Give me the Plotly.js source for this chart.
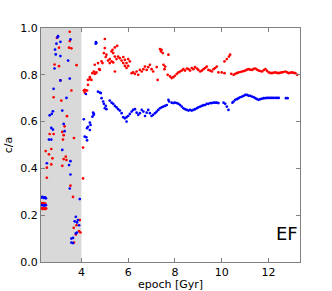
<!DOCTYPE html>
<html>
<head>
<meta charset="utf-8">
<script src="https://cdn.plot.ly/plotly-3.0.1.min.js"></script>
<style>html,body{margin:0;padding:0;background:#fff;}#chart{width:332px;height:291px;}</style>
</head>
<body>
<div id="chart"></div>
<script>
// epoch [Gyr], c/a
const redSeries = [
[3.50,0.984],[2.95,0.958],[3.50,0.944],[3.47,0.916],[3.57,0.913],[3.04,0.916],[2.85,0.844],[3.04,0.837],[3.79,0.841],[3.10,0.776],[3.57,0.733],[2.81,0.704],[3.14,0.690],[3.38,0.623],[3.28,0.580],[2.64,0.547],[2.81,0.547],[3.18,0.556],[3.24,0.542],[3.68,0.530],[3.21,0.523],
[2.47,0.474],[2.71,0.483],[2.61,0.460],[2.76,0.443],[3.33,0.450],[3.24,0.440],[3.36,0.436],[2.71,0.417],[3.18,0.411],[2.52,0.403],[2.52,0.360],[4.07,0.357],[4.07,0.489],[3.53,0.326],[3.64,0.278],
[2.29,0.252],[2.33,0.250],[2.37,0.252],[2.41,0.248],[2.45,0.250],[2.29,0.229],[2.33,0.226],[2.37,0.231],[2.41,0.228],[2.45,0.226],[2.49,0.229],
[3.93,0.179],[3.79,0.157],[3.67,0.146],[3.90,0.132],[3.96,0.126],[3.68,0.083],[3.76,0.117],
[4.10,0.733],[4.14,0.736],[4.19,0.733],[4.14,0.724],[4.24,0.733],[4.28,0.757],[4.28,0.778],[4.36,0.781],[4.43,0.778],[4.36,0.790],[4.47,0.807],[4.53,0.814],[4.61,0.807],[4.57,0.804],[4.64,0.810],[4.57,0.843],[4.71,0.850],[4.86,0.857],[4.90,0.850],[4.79,0.821],[4.76,0.824],
[5.00,0.953],[5.00,0.914],[4.96,0.893],[5.04,0.876],[5.07,0.886],[5.14,0.861],[5.21,0.867],[5.29,0.857],[5.36,0.853],[5.33,0.907],[5.36,0.893],[5.53,0.924],[5.43,0.814],[5.43,0.917],[5.29,0.900],[5.21,0.850],[5.43,0.878],[5.50,0.867],[5.57,0.878],[5.64,0.871],[5.72,0.861],[5.79,0.850],[5.86,0.838],[5.93,0.829],[5.79,0.876],[5.86,0.864],[5.93,0.850],[6.00,0.867],[6.07,0.857],[6.00,0.838],
[6.15,0.807],[6.21,0.810],[6.29,0.804],[6.36,0.814],[6.43,0.800],[6.50,0.821],[6.58,0.814],[6.65,0.824],[6.72,0.835],[6.79,0.821],[6.86,0.833],[6.93,0.843],[7.00,0.824],[7.07,0.814],[7.22,0.833],[7.26,0.778],
[7.36,0.910],[7.43,0.907],[7.40,0.900],[7.48,0.893],[7.72,0.886],[7.51,0.843],[7.58,0.835],[7.55,0.824],
[7.69,0.800],[7.79,0.793],[7.86,0.786],[7.93,0.790],[8.00,0.796],[8.08,0.804],[8.15,0.810],[8.22,0.814],[8.29,0.818],[8.36,0.824],[8.43,0.818],[8.51,0.827],[8.58,0.824],[8.65,0.818],[8.72,0.829],[8.79,0.824],[8.86,0.833],[8.94,0.827],[9.00,0.821],[9.08,0.814],[9.15,0.818],[9.22,0.824],[9.29,0.829],[9.36,0.835],[9.43,0.821],[9.51,0.818],[9.58,0.814],[9.65,0.824],[9.72,0.829],[9.79,0.835],[9.86,0.810],[10.00,0.810],[10.12,0.807],
[10.12,0.857],[10.22,0.867],[10.31,0.878],[10.36,0.886],
[10.41,0.804],[10.51,0.800],[10.58,0.804],[10.65,0.807],[10.72,0.810],[10.80,0.812],[10.87,0.814],[10.94,0.816],[11.01,0.818],[11.08,0.822],[11.15,0.824],[11.22,0.822],[11.30,0.821],[11.37,0.825],[11.44,0.827],[11.51,0.822],[11.58,0.818],[11.65,0.816],[11.73,0.814],[11.80,0.820],[11.87,0.824],[11.94,0.817],[12.01,0.810],[12.08,0.808],[12.15,0.807],[12.22,0.809],[12.30,0.810],[12.37,0.808],[12.44,0.807],[12.51,0.809],[12.58,0.810],[12.65,0.812],[12.73,0.814],[12.80,0.810],[12.87,0.807],[12.94,0.809],[13.01,0.810],[13.08,0.808],[13.15,0.807],[13.23,0.800]
];
const blueSeries = [
[3.00,0.965],[2.98,0.960],[3.53,0.951],[3.10,0.941],[2.93,0.933],[2.87,0.908],[2.90,0.887],[3.10,0.880],[3.43,0.861],[2.85,0.827],[3.10,0.776],[3.50,0.784],[2.81,0.740],[3.36,0.701],[2.78,0.644],[3.18,0.647],[2.64,0.627],[2.73,0.633],[3.24,0.590],[2.71,0.573],[2.78,0.566],[3.28,0.559],[2.61,0.523],[2.71,0.523],
[3.18,0.479],[3.53,0.431],[2.52,0.422],[3.47,0.414],[3.53,0.374],[3.50,0.314],[3.93,0.269],
[2.28,0.276],[2.32,0.278],[2.36,0.276],[2.40,0.274],[2.44,0.276],[2.48,0.272],[2.30,0.243],[2.36,0.243],[2.42,0.241],[2.48,0.243],
[3.76,0.193],[3.85,0.179],[3.71,0.174],[3.81,0.169],[3.90,0.157],[3.81,0.126],[3.76,0.122],[3.64,0.103],[3.57,0.100],[3.57,0.083],[3.64,0.081],
[4.64,0.936],[4.61,0.933],[4.62,0.940],[4.19,0.718],[4.10,0.610],[4.14,0.536],[4.21,0.533],[4.24,0.520],[4.28,0.578],[4.24,0.572],[4.36,0.564],[4.39,0.586],[4.36,0.596],[4.47,0.621],[4.53,0.629],[4.50,0.638],[4.53,0.633],
[4.71,0.728],[4.79,0.724],[4.83,0.722],[4.86,0.700],[4.93,0.686],[4.96,0.676],[5.00,0.657],[5.04,0.667],[5.07,0.653],
[5.21,0.690],[5.29,0.681],[5.36,0.676],[5.43,0.667],[5.50,0.661],[5.57,0.653],[5.64,0.647],[5.72,0.636],[5.79,0.619],[5.86,0.614],[5.93,0.619],[6.00,0.624],[5.93,0.600],
[6.07,0.633],[6.15,0.643],[6.21,0.650],[6.29,0.653],[6.36,0.638],[6.43,0.629],[6.50,0.636],[6.58,0.650],[6.65,0.643],[6.72,0.624],[6.79,0.638],[6.86,0.650],[6.93,0.636],[7.00,0.624],[7.07,0.629],[7.15,0.636],
[7.22,0.643],[7.29,0.650],[7.36,0.657],[7.43,0.661],[7.50,0.664],[7.58,0.667],[7.65,0.671],[7.72,0.693],[7.75,0.686],
[7.86,0.681],[7.93,0.679],[8.00,0.681],[8.08,0.679],[8.15,0.676],[8.22,0.671],[8.29,0.664],[8.36,0.657],[8.43,0.653],[8.51,0.650],[8.58,0.647],[8.65,0.650],[8.72,0.647],[8.79,0.650],[8.86,0.653],[8.94,0.657],[9.00,0.661],[9.08,0.664],[9.15,0.667],[9.22,0.670],[9.29,0.671],[9.36,0.676],[9.43,0.676],[9.51,0.679],[9.58,0.679],[9.65,0.681],[9.72,0.681],[9.79,0.681],[9.86,0.679],
[10.08,0.681],[10.15,0.676],[10.22,0.664],[10.29,0.650],
[10.46,0.681],[10.51,0.686],[10.58,0.693],[10.65,0.696],[10.72,0.700],[10.79,0.704],[10.87,0.707],[10.94,0.710],[11.01,0.714],[11.08,0.714],[11.15,0.711],[11.22,0.710],[11.30,0.707],[11.37,0.704],[11.44,0.700],[11.51,0.696],[11.58,0.693],[11.65,0.696],[11.73,0.698],[11.80,0.700],[11.87,0.700],[11.94,0.701],[12.01,0.701],[12.08,0.701],[12.15,0.701],[12.22,0.701],[12.30,0.701],[12.37,0.701],[12.44,0.701],[12.75,0.700],[12.82,0.700]
];
const xTicks = [4, 6, 8, 10, 12];
const yTicks = [0.0, 0.2, 0.4, 0.6, 0.8, 1.0];
const shadedEnd = 4.0;
const xRange = [2.27, 13.35];
const label = "EF";

const font = {family: "DejaVu Sans, sans-serif", size: 11, color: "#000"};
function trace(s, color) {
  return {x: s.map(p => p[0]), y: s.map(p => p[1]), mode: "markers", type: "scatter",
    marker: {color: color, size: 2.7, line: {width: 0}}, hoverinfo: "none"};
}
const axisCommon = {showgrid: false, zeroline: false, showline: true, linecolor: "#808080", linewidth: 1,
  ticks: "inside", ticklen: 4, tickcolor: "#808080", mirror: "ticks", tickfont: font};
const layout = {
  width: 332, height: 291, margin: {l: 41, r: 32, t: 28, b: 29},
  paper_bgcolor: "#fff", plot_bgcolor: "#fff", showlegend: false, font: font,
  xaxis: Object.assign({}, axisCommon, {range: xRange, tickvals: xTicks, ticktext: xTicks.map(String),
    title: {text: "epoch [Gyr]", font: font, standoff: 3}}),
  yaxis: Object.assign({}, axisCommon, {range: [0, 1], tickvals: yTicks, ticktext: yTicks.map(v => v.toFixed(1)),
    title: {text: "c/a", font: font, standoff: 5}}),
  shapes: [{type: "rect", xref: "x", yref: "paper", x0: xRange[0], x1: shadedEnd, y0: 0, y1: 1,
    fillcolor: "#d9d9d9", line: {width: 0}, layer: "below"}],
  annotations: [{text: label, xref: "paper", yref: "paper", x: 1.0, y: 0.07, xanchor: "right", yanchor: "bottom",
    showarrow: false, font: {family: "DejaVu Sans, sans-serif", size: 18, color: "#000"}}]
};
Plotly.newPlot("chart", [trace(redSeries, "#ff0000"), trace(blueSeries, "#0000ff")], layout, {staticPlot: true});
</script>
</body>
</html>
